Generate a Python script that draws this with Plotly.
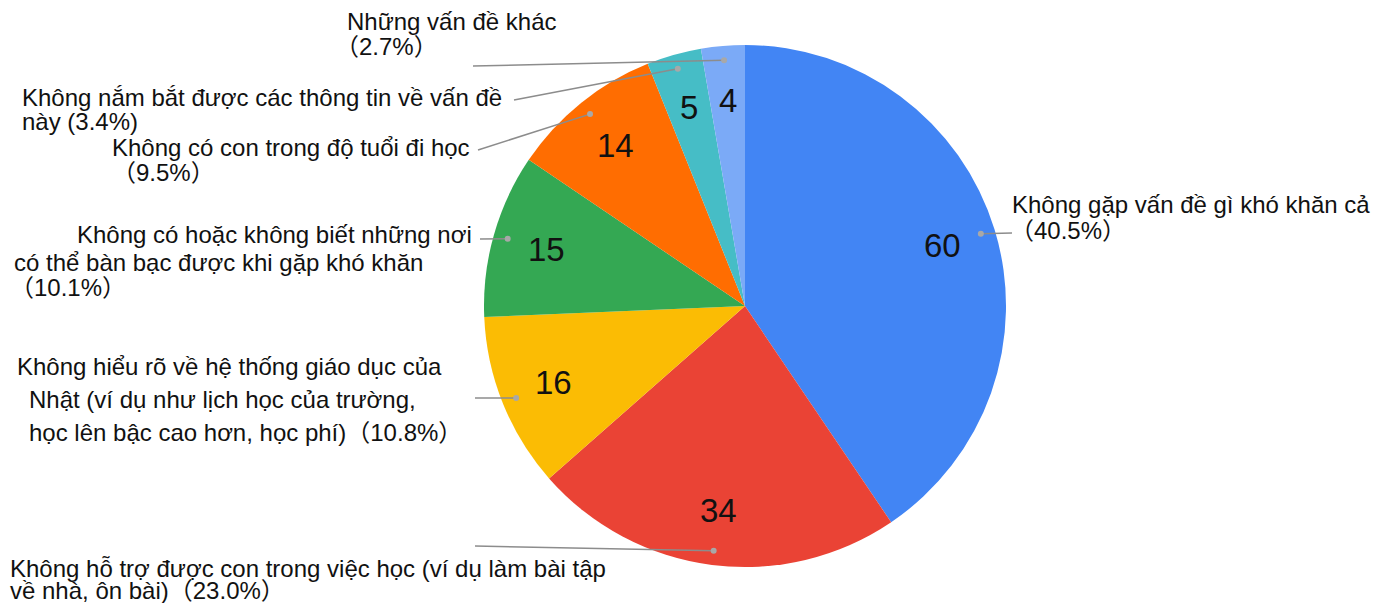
import math
import plotly.graph_objects as go

# the page keeps an 8px body margin, so the plot area is the window minus 16px
OFF, W, H = 8, 1367, 595

values = [60, 34, 16, 15, 14, 5, 4]
categories = [
    "Không gặp vấn đề gì khó khăn cả",
    "Không hỗ trợ được con trong việc học",
    "Không hiểu rõ về hệ thống giáo dục của Nhật",
    "Không có hoặc không biết những nơi có thể bàn bạc",
    "Không có con trong độ tuổi đi học",
    "Không nắm bắt được các thông tin về vấn đề này",
    "Những vấn đề khác",
]
colors = ["#4285F4", "#EA4335", "#FBBC04", "#34A853", "#FF6D01", "#46BDC6", "#7BAAF7"]

# label text, one list of lines per slice
label_lines = [
    ["Không gặp vấn đề gì khó khăn cả", "（40.5%）"],
    ["Không hỗ trợ được con trong việc học (ví dụ làm bài tập", "về nhà, ôn bài)（23.0%）"],
    ["Không hiểu rõ về hệ thống giáo dục của", "Nhật (ví dụ như lịch học của trường,",
     "học lên bậc cao hơn, học phí)（10.8%）"],
    ["Không có hoặc không biết những nơi", "có thể bàn bạc được khi gặp khó khăn", "（10.1%）"],
    ["Không có con trong độ tuổi đi học", "（9.5%）"],
    ["Không nắm bắt được các thông tin về vấn đề", "này (3.4%)"],
    ["Những vấn đề khác", "（2.7%）"],
]

# layout of the labels (window pixels): left x and centre y of each line
label_pos = [
    [(1010, 205), (1008, 230)],
    [(8, 568), (8, 590)],
    [(15, 366), (27, 399), (27, 432)],
    [(75, 234), (12, 262), (8, 287)],
    [(110, 147), (110, 172)],
    [(20, 97), (20, 121)],
    [(345, 21), (333, 47)],
]
# outer end of each leader line (window pixels)
leader_end = [(1012, 233), (475, 546), (475, 398), (480, 239), (478, 150), (514, 100), (473, 66)]

# pie box in window pixels
cx, cy, R = 745, 306, 261

FONT = "Liberation Sans, Arial, Noto Sans CJK JP, sans-serif"


def px(x):
    return (x - OFF) / W


def py(y):
    return 1 - (y - OFF) / H


fig = go.Figure()
fig.add_trace(go.Pie(
    labels=categories, values=values, sort=False, direction="clockwise", rotation=0,
    marker=dict(colors=colors, line=dict(width=0)),
    textinfo="none",
    hoverinfo="label+value+percent",
    domain=dict(x=[px(cx - R), px(cx + R)], y=[py(cy + R), py(cy - R)]),
    showlegend=False,
))

annotations = []
shapes = []
total = sum(values)
cum = 0
for i, v in enumerate(values):
    ang = math.radians((cum + v / 2) / total * 360)
    cum += v
    # value inside the slice
    annotations.append(dict(text=str(v), x=px(cx + 0.79 * R * math.sin(ang)),
                            y=py(cy - 0.79 * R * math.cos(ang)),
                            xref="paper", yref="paper", showarrow=False,
                            xanchor="center", yanchor="middle",
                            font=dict(family=FONT, size=33, color="#111111")))
    # leader line and dot
    dx = cx + 0.945 * R * math.sin(ang)
    dy = cy - 0.945 * R * math.cos(ang)
    ex, ey = leader_end[i]
    shapes.append(dict(type="line", xref="paper", yref="paper",
                       x0=px(dx), y0=py(dy), x1=px(ex), y1=py(ey),
                       line=dict(color="#8c8c8c", width=1.5)))
    shapes.append(dict(type="circle", xref="paper", yref="paper",
                       x0=px(dx - 3), y0=py(dy - 3), x1=px(dx + 3), y1=py(dy + 3),
                       fillcolor="#a8a8a8", line=dict(width=0)))
    for text, (lx, ly) in zip(label_lines[i], label_pos[i]):
        annotations.append(dict(text=text, x=px(lx), y=py(ly), xref="paper", yref="paper",
                                xanchor="left", yanchor="middle", showarrow=False,
                                font=dict(family=FONT, size=24, color="#111111")))

fig.update_layout(
    autosize=True, margin=dict(l=0, r=0, t=0, b=0),
    paper_bgcolor="white", plot_bgcolor="white",
    annotations=annotations, shapes=shapes,
)

fig.write_html("out.html")
